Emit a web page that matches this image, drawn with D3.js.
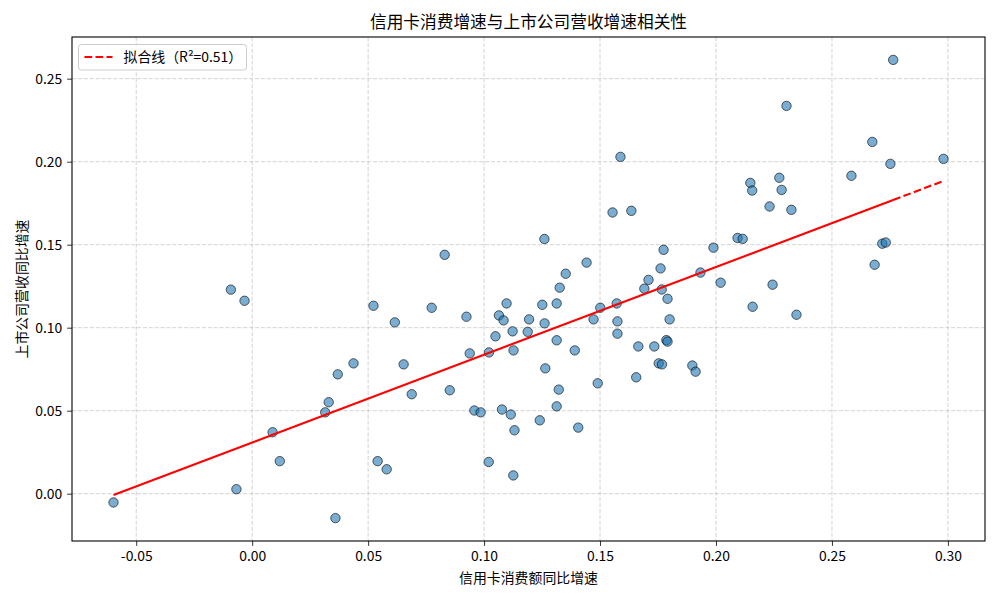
<!DOCTYPE html>
<html>
<head>
<meta charset="utf-8">
<script src="https://cdn.jsdelivr.net/npm/d3@7"></script>
<style>
  html, body { margin: 0; padding: 0; background: #fff; }
  svg { display: block; font-family: "Noto Sans CJK SC", "DejaVu Sans", sans-serif; }
</style>
</head>
<body>
<svg id="chart" width="1000" height="600"></svg>
<script>
'use strict';

// ── Data ──────────────────────────────────────────────────────
const cardGrowth = [
  -0.0598, -0.0092, -0.0033, -0.0068, 0.0088, 0.0119, 0.0315, 0.0330, 0.0369, 0.0359,
   0.0437,  0.0523,  0.0541,  0.0580, 0.0615, 0.0653, 0.0688, 0.0774, 0.0830, 0.0852,
   0.0924,  0.0938,  0.0958,  0.0985, 0.1021, 0.1020, 0.1049, 0.1064, 0.1077, 0.1084,
   0.1097,  0.1115,  0.1123,  0.1127, 0.1126, 0.1131, 0.1188, 0.1194, 0.1240, 0.1251,
   0.1260,  0.1261,  0.1264,  0.1313, 0.1313, 0.1313, 0.1322, 0.1326, 0.1352, 0.1391,
   0.1406,  0.1442,  0.1472,  0.1490, 0.1501, 0.1554, 0.1572, 0.1575, 0.1575, 0.1588,
   0.1635,  0.1656,  0.1665,  0.1691, 0.1709, 0.1734, 0.1753, 0.1761, 0.1766, 0.1767,
   0.1774,  0.1786,  0.1791,  0.1791, 0.1800, 0.1898, 0.1912, 0.1933, 0.1989, 0.2020,
   0.2093,  0.2115,  0.2148,  0.2156, 0.2158, 0.2231, 0.2244, 0.2273, 0.2283, 0.2304,
   0.2325,  0.2347,  0.2584,  0.2674, 0.2684, 0.2717, 0.2732, 0.2752, 0.2764, 0.2981
];
const revenueGrowth = [
  -0.0053, 0.1229, 0.1162, 0.0027, 0.0370, 0.0196, 0.0490, 0.0551, 0.0719, -0.0147,
   0.0785, 0.1132, 0.0196, 0.0147, 0.1032, 0.0779, 0.0599, 0.1120, 0.1439, 0.0623,
   0.1066, 0.0845, 0.0501, 0.0490, 0.0851, 0.0191, 0.0948, 0.1074, 0.0507, 0.1044,
   0.1146, 0.0477, 0.0978, 0.0863, 0.0110, 0.0382, 0.0975, 0.1050, 0.0442, 0.1138,
   0.1534, 0.1026, 0.0755, 0.0924, 0.1146, 0.0526, 0.0627, 0.1241, 0.1325, 0.0863,
   0.0398, 0.1392, 0.1050, 0.0665, 0.1120, 0.1694, 0.1146, 0.1038, 0.0964, 0.2029,
   0.1704, 0.0701, 0.0887, 0.1235, 0.1288, 0.0887, 0.0785, 0.1357, 0.1230, 0.0779,
   0.1469, 0.0925, 0.1174, 0.0916, 0.1050, 0.0772, 0.0735, 0.1332, 0.1482, 0.1271,
   0.1540, 0.1535, 0.1872, 0.1826, 0.1126, 0.1730, 0.1259, 0.1903, 0.1830, 0.2336,
   0.1710, 0.1078, 0.1915, 0.2119, 0.1379, 0.1506, 0.1513, 0.1987, 0.2613, 0.2017
];

const xTicks = [-0.05, 0.00, 0.05, 0.10, 0.15, 0.20, 0.25, 0.30];
const yTicks = [0.00, 0.05, 0.10, 0.15, 0.20, 0.25];

const TITLE   = '信用卡消费增速与上市公司营收增速相关性';
const X_LABEL = '信用卡消费额同比增速';
const Y_LABEL = '上市公司营收同比增速';
const R2_TEXT = '0.51';

// ── Layout ────────────────────────────────────────────────────
const W = 1000, H = 600;
const M = { top: 37, right: 15, bottom: 59, left: 72 };
const FONT = 13.9;

const svg = d3.select('#chart');

// matplotlib-style 5% autoscale margins
function padded(vals) {
  const [lo, hi] = d3.extent(vals);
  const m = (hi - lo) * 0.05;
  return [lo - m, hi + m];
}

const x = d3.scaleLinear().domain(padded(cardGrowth)).range([M.left, W - M.right]);
const y = d3.scaleLinear().domain(padded(revenueGrowth)).range([H - M.bottom, M.top]);

const points = cardGrowth.map((v, i) => ({ x: v, y: revenueGrowth[i] }));

// ── Grid ──────────────────────────────────────────────────────
const grid = svg.append('g')
  .attr('stroke', '#b0b0b0')
  .attr('stroke-opacity', 0.7)
  .attr('stroke-width', 0.8)
  .attr('stroke-dasharray', '4.1,1.8');

grid.selectAll('line.gx').data(xTicks).join('line')
  .attr('class', 'gx')
  .attr('x1', d => x(d)).attr('x2', d => x(d))
  .attr('y1', M.top).attr('y2', H - M.bottom);

grid.selectAll('line.gy').data(yTicks).join('line')
  .attr('class', 'gy')
  .attr('y1', d => y(d)).attr('y2', d => y(d))
  .attr('x1', M.left).attr('x2', W - M.right);

// ── Scatter ───────────────────────────────────────────────────
svg.append('g')
  .selectAll('circle').data(points).join('circle')
  .attr('cx', d => x(d.x))
  .attr('cy', d => y(d.y))
  .attr('r', 4.7)
  .attr('fill', '#1f77b4')
  .attr('fill-opacity', 0.6)
  .attr('stroke', '#000')
  .attr('stroke-opacity', 0.6)
  .attr('stroke-width', 1);

// ── Linear fit ────────────────────────────────────────────────
const mx = d3.mean(cardGrowth), my = d3.mean(revenueGrowth);
const sxy = d3.sum(points, p => (p.x - mx) * (p.y - my));
const sxx = d3.sum(points, p => (p.x - mx) ** 2);
const slope = sxy / sxx;
const intercept = my - slope * mx;
const fit = v => intercept + slope * v;

const sortedX = cardGrowth.slice().sort(d3.ascending);
const xMin = sortedX[0];
const xNext = sortedX[sortedX.length - 2];
const xMax = sortedX[sortedX.length - 1];

const fitLine = svg.append('g')
  .attr('stroke', 'red')
  .attr('stroke-width', 2.1)
  .attr('fill', 'none');

// overlapping dashes in the original look solid over the dense range
fitLine.append('line')
  .attr('x1', x(xMin)).attr('y1', y(fit(xMin)))
  .attr('x2', x(xNext)).attr('y2', y(fit(xNext)));

fitLine.append('line')
  .attr('stroke-dasharray', '7.7,3.3')
  .attr('x1', x(xNext)).attr('y1', y(fit(xNext)))
  .attr('x2', x(xMax)).attr('y2', y(fit(xMax)));

// ── Axes ──────────────────────────────────────────────────────
const fmt = d3.format('.2f');

const xAxis = svg.append('g')
  .attr('transform', `translate(0,${H - M.bottom})`)
  .call(d3.axisBottom(x).tickValues(xTicks).tickFormat(d => fmt(d).replace('−', '-'))
    .tickSize(4.9).tickPadding(4.9));

const yAxis = svg.append('g')
  .attr('transform', `translate(${M.left},0)`)
  .call(d3.axisLeft(y).tickValues(yTicks).tickFormat(fmt)
    .tickSize(4.9).tickPadding(4.9));

[xAxis, yAxis].forEach(a => {
  a.select('.domain').remove();
  a.selectAll('.tick line').attr('stroke', '#000').attr('stroke-width', 0.8);
  a.selectAll('.tick text')
    .attr('fill', '#000')
    .style('font-family', '"Noto Sans CJK SC", sans-serif')
    .style('font-size', FONT + 'px');
});

// frame
svg.append('rect')
  .attr('x', M.left).attr('y', M.top)
  .attr('width', W - M.left - M.right)
  .attr('height', H - M.top - M.bottom)
  .attr('fill', 'none')
  .attr('stroke', '#000')
  .attr('stroke-width', 1.1);

// ── Labels ────────────────────────────────────────────────────
svg.append('text')
  .attr('x', (M.left + W - M.right) / 2)
  .attr('y', 28)
  .attr('text-anchor', 'middle')
  .style('font-size', '16.7px')
  .text(TITLE);

svg.append('text')
  .attr('x', (M.left + W - M.right) / 2)
  .attr('y', 583)
  .attr('text-anchor', 'middle')
  .style('font-size', FONT + 'px')
  .text(X_LABEL);

svg.append('text')
  .attr('transform', `translate(27,${(M.top + H - M.bottom) / 2}) rotate(-90)`)
  .attr('text-anchor', 'middle')
  .style('font-size', FONT + 'px')
  .text(Y_LABEL);

// ── Legend ────────────────────────────────────────────────────
const legend = svg.append('g').attr('transform', `translate(${M.left + 6.5},${M.top + 7.5})`);

legend.append('rect')
  .attr('width', 168).attr('height', 25.5)
  .attr('rx', 3)
  .attr('fill', '#fff').attr('fill-opacity', 0.8)
  .attr('stroke', '#cccccc').attr('stroke-width', 1);

legend.append('line')
  .attr('x1', 6).attr('x2', 34)
  .attr('y1', 12.5).attr('y2', 12.5)
  .attr('stroke', 'red')
  .attr('stroke-width', 2.1)
  .attr('stroke-dasharray', '7.7,3.3');

legend.append('text')
  .attr('x', 45).attr('y', 17.5)
  .style('font-size', FONT + 'px')
  .text(`拟合线（R²=${R2_TEXT}）`);
</script>
</body>
</html>
